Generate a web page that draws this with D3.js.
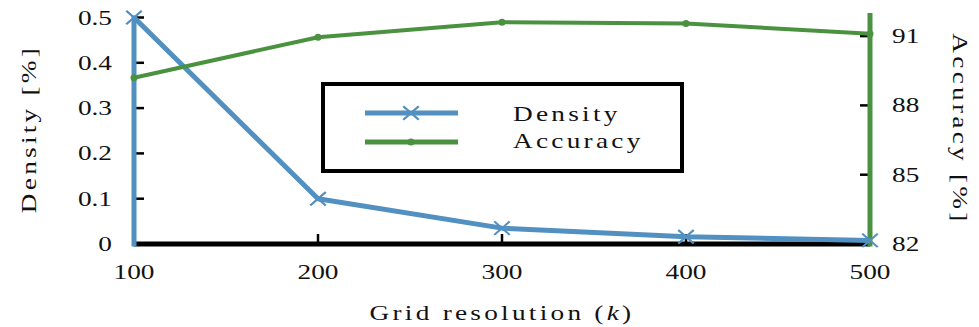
<!DOCTYPE html>
<html>
<head>
<meta charset="utf-8">
<script src="https://cdnjs.cloudflare.com/ajax/libs/d3/7.8.5/d3.min.js"></script>
<style>
  body { margin: 0; background: #fff; }
  text { font-family: "Liberation Serif", "DejaVu Serif", serif; fill: #111; }
</style>
</head>
<body>
<div id="chart"></div>
<script>
var width = 979,
    height = 327;

// data
var resolution = [100, 200, 300, 400, 500];
var density = [0.5, 0.1, 0.035, 0.016, 0.008];
var accuracy = [89.2, 90.95, 91.6, 91.55, 91.1];

var densityTicks = [0, 0.1, 0.2, 0.3, 0.4, 0.5];
var accuracyTicks = [82, 85, 88, 91];

var blue = "#5190c0",
    green = "#4a9240";

var margin = {left: 134, right: 109, top: 13, bottom: 83};
var stretch = 1.3; // computer modern is wider than times

var svg = d3.select("#chart")
    .append("svg")
    .attr("width", width)
    .attr("height", height);

var x = d3.scaleLinear().domain([100, 500]).range([margin.left, width - margin.right]);
var yL = d3.scaleLinear().domain([0, 0.5]).range([height - margin.bottom, 17.5]);
var yR = d3.scaleLinear().domain([82, 92]).range([height - margin.bottom, margin.top]);

var y0 = height - margin.bottom;

// text helper, stretched along its own baseline
function label(px, py, str, anchor, rot, spacing) {
    var g = svg.append("g")
        .attr("transform", "translate(" + px + "," + py + ")" + (rot ? " rotate(" + rot + ")" : "") + " scale(" + stretch + ",1)");
    var t = g.append("text")
        .style("font-size", "21px")
        .style("text-anchor", anchor)
        .style("letter-spacing", (spacing || 0) + "px");
    if (str !== null) t.text(str);
    return t;
}

// ticks
densityTicks.forEach(function (d) {
    if (d > 0) {
        svg.append("line")
            .attr("x1", x(100)).attr("x2", x(100) + 10)
            .attr("y1", yL(d)).attr("y2", yL(d))
            .style("stroke", "#000").style("stroke-width", 2.5);
    }
    label(x(100) - 22, yL(d) + 7, d === 0 ? "0" : d3.format(".1f")(d), "end");
});

accuracyTicks.forEach(function (d) {
    if (d > 82) {
        svg.append("line")
            .attr("x1", x(500) - 10).attr("x2", x(500))
            .attr("y1", yR(d)).attr("y2", yR(d))
            .style("stroke", "#000").style("stroke-width", 2.5);
    }
    label(x(500) + 22, yR(d) + 7, d, "start");
});

resolution.forEach(function (d) {
    if (d > 100 && d < 500) {
        svg.append("line")
            .attr("x1", x(d)).attr("x2", x(d))
            .attr("y1", y0).attr("y2", y0 - 10)
            .style("stroke", "#000").style("stroke-width", 2.5);
    }
    label(x(d), y0 + 35, d, "middle");
});

// axis lines
svg.append("line")
    .attr("x1", x(100)).attr("x2", x(500))
    .attr("y1", y0).attr("y2", y0)
    .style("stroke", "#000").style("stroke-width", 5);

svg.append("line")
    .attr("x1", x(100)).attr("x2", x(100))
    .attr("y1", y0 + 2.5).attr("y2", yL(0.5) - 2)
    .style("stroke", blue).style("stroke-width", 5);

svg.append("line")
    .attr("x1", x(500)).attr("x2", x(500))
    .attr("y1", y0 + 2.5).attr("y2", yR(92))
    .style("stroke", green).style("stroke-width", 5);

// density line
var lineD = d3.line()
    .x(function (d, i) { return x(resolution[i]); })
    .y(function (d) { return yL(d); });

svg.append("path")
    .datum(density)
    .attr("d", lineD)
    .style("fill", "none")
    .style("stroke", blue)
    .style("stroke-width", 5)
    .style("stroke-linejoin", "round");

var cross = d3.symbol().type(d3.symbolX).size(120);
density.forEach(function (d, i) {
    svg.append("path")
        .attr("d", cross())
        .attr("transform", "translate(" + x(resolution[i]) + "," + yL(d) + ") scale(1.15,1)")
        .style("fill", "none")
        .style("stroke", blue)
        .style("stroke-width", 2);
});

// accuracy line
var lineA = d3.line()
    .x(function (d, i) { return x(resolution[i]); })
    .y(function (d) { return yR(d); });

svg.append("path")
    .datum(accuracy)
    .attr("d", lineA)
    .style("fill", "none")
    .style("stroke", green)
    .style("stroke-width", 4);

accuracy.forEach(function (d, i) {
    svg.append("circle")
        .attr("cx", x(resolution[i]))
        .attr("cy", yR(d))
        .attr("r", 3.5)
        .style("fill", green);
});

// axis titles
label(36, 129, "Density [%]", "middle", -90, 2.5);
label(953, 129, "Accuracy [%]", "middle", 90, 2.5);

var xt = label(502, 320, null, "middle", 0, 2.5);
xt.append("tspan").text("Grid resolution (");
xt.append("tspan").text("k").style("font-style", "italic");
xt.append("tspan").text(")");

// legend
var legend = svg.append("g");
legend.append("rect")
    .attr("x", 323).attr("y", 84)
    .attr("width", 359).attr("height", 87)
    .style("fill", "#fff")
    .style("stroke", "#000")
    .style("stroke-width", 4);

legend.append("line")
    .attr("x1", 365).attr("x2", 458)
    .attr("y1", 113).attr("y2", 113)
    .style("stroke", blue).style("stroke-width", 5);
legend.append("path")
    .attr("d", cross())
    .attr("transform", "translate(411,113) scale(1.15,1)")
    .style("fill", "none").style("stroke", blue).style("stroke-width", 2);

legend.append("line")
    .attr("x1", 365).attr("x2", 458)
    .attr("y1", 142).attr("y2", 142)
    .style("stroke", green).style("stroke-width", 5);
legend.append("circle")
    .attr("cx", 411).attr("cy", 142).attr("r", 3.5)
    .style("fill", green);

label(513, 121, "Density", "start", 0, 2.5);
label(513, 148, "Accuracy", "start", 0, 2.5);
</script>
</body>
</html>
